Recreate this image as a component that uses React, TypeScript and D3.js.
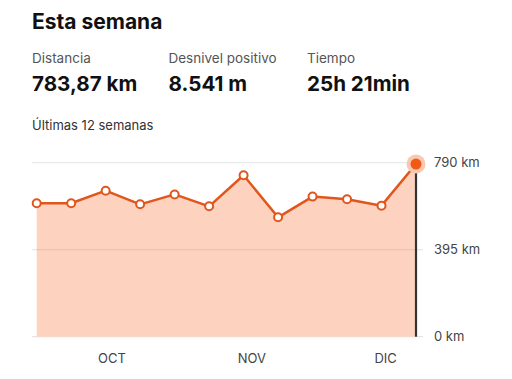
import React from "react";
import * as d3 from "d3";

const weeks = [1, 2, 3, 4, 5, 6, 7, 8, 9, 10, 11, 12];
const distances = [606, 606, 663, 601, 646, 592, 733, 542, 636, 624, 595, 783.87];
const yTicks = [0, 395, 790];
const monthLabels = ["OCT", "NOV", "DIC"];
const monthPositions = [3.18, 7.24, 11.12];

const stats = [
  { label: "Distancia", value: "783,87 km" },
  { label: "Desnivel positivo", value: "8.541 m" },
  { label: "Tiempo", value: "25h 21min" },
];

export default function App() {
  const W = 512, H = 379;
  const font = "Inter, 'Noto Sans', sans-serif";
  const x = d3.scaleLinear().domain([1, 12]).range([36.7, 416]);
  const y = d3.scaleLinear().domain([0, 790]).range([336.7, 162.7]);
  const pts = weeks.map((w, i) => [x(w), y(distances[i])] as [number, number]);
  const line = d3.line()(pts) || "";
  const area = d3.area<[number, number]>().x(d => d[0]).y0(y(0)).y1(d => d[1])(pts) || "";
  const statX = [32, 168.5, 307];
  const last = pts[pts.length - 1];
  return (
    <svg width={W} height={H} style={{ position: "absolute", left: 0, top: 0, background: "#fff" }} fontFamily={font}>
      <text x={32} y={29} fontSize={21} fontWeight={700} fill="#111">Esta semana</text>
      {stats.map((s, i) => (
        <g key={s.label}>
          <text x={statX[i]} y={63} fontSize={13.5} fill="#555">{s.label}</text>
          <text x={statX[i]} y={90.5} fontSize={20.6} fontWeight={700} fill="#111">{s.value}</text>
        </g>
      ))}
      <text x={32} y={129.5} fontSize={13} fill="#333">Últimas 12 semanas</text>
      {yTicks.map(t => (
        <line key={"g" + t} x1={32} x2={423} y1={y(t)} y2={y(t)} stroke={t === 0 ? "#e4e4e4" : "#e8e8e8"} strokeWidth={1.3} />
      ))}
      <path d={area} fill="#fdd3bf" />
      {yTicks.filter(t => t === 395).map(t => (
        <line key={"m" + t} x1={x(1)} x2={x(12)} y1={y(t)} y2={y(t)} stroke="#ebbfa8" strokeWidth={1} />
      ))}
      <line x1={last[0]} x2={last[0]} y1={last[1]} y2={y(0)} stroke="#333" strokeWidth={2.2} />
      <path d={line} fill="none" stroke="#e0561c" strokeWidth={2.5} strokeLinejoin="round" />
      {pts.slice(0, -1).map((p, i) => (
        <circle key={i} cx={p[0]} cy={p[1]} r={4} fill="#fff" stroke="#e0561c" strokeWidth={2} />
      ))}
      <circle cx={last[0]} cy={last[1]} r={9.5} fill="#f8c8b0" />
      <circle cx={last[0]} cy={last[1]} r={5.5} fill="#f05a14" />
      {yTicks.map(t => (
        <text key={"t" + t} x={434} y={y(t)} dy="0.35em" fontSize={13} fill="#444">{t} km</text>
      ))}
      {monthLabels.map((m, i) => (
        <text key={m} x={x(monthPositions[i])} y={362.5} textAnchor="middle" fontSize={13} fill="#444">{m}</text>
      ))}
    </svg>
  );
}
